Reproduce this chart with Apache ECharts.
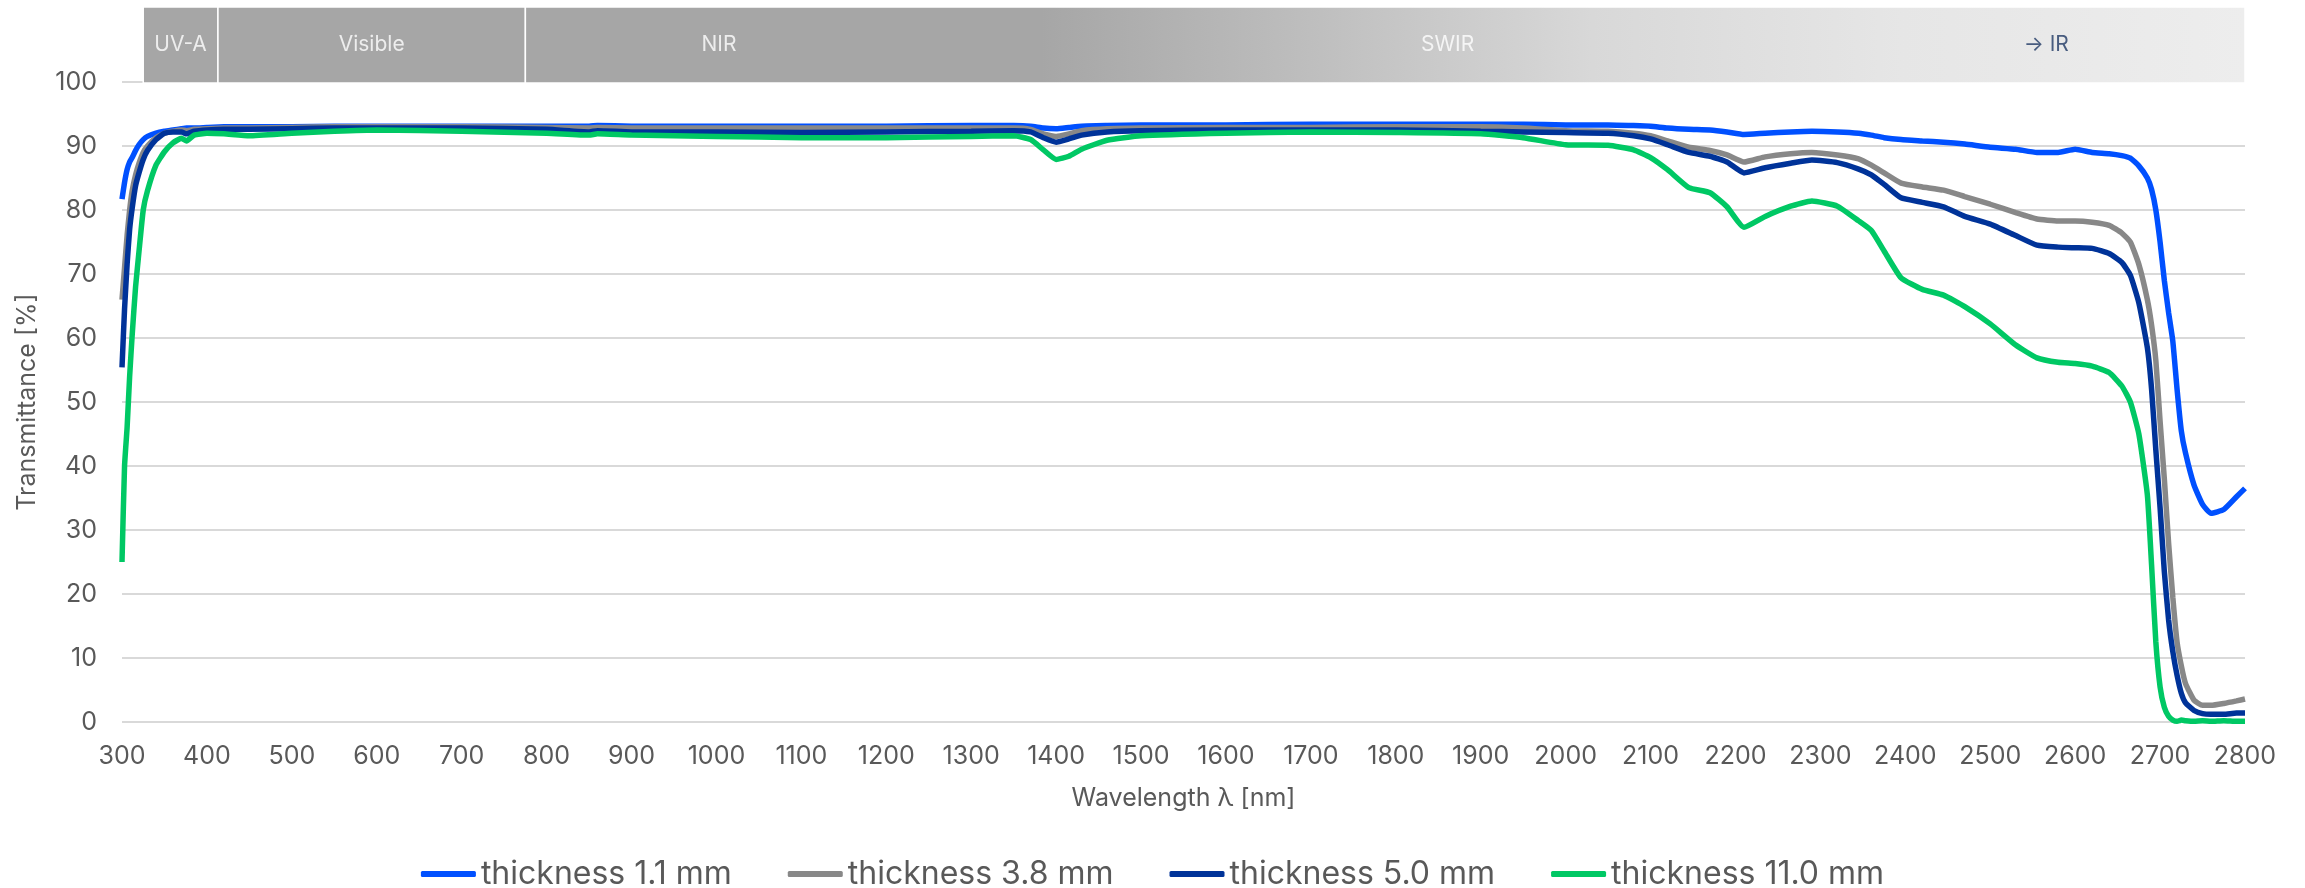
<!DOCTYPE html>
<html><head><meta charset="utf-8">
<script src="https://cdn.jsdelivr.net/npm/echarts@6/dist/echarts.min.js"></script>
<style>html,body{margin:0;padding:0;background:#fff}#chart{width:2305px;height:888px}</style>
</head><body><div id="chart"></div>
<script>
// Wavelength sample points [nm]
const wavelengths = [300,303,306,309,312,316,320,325,330,340,350,360,370,376,385,400,420,450,500,550,600,700,800,850,860,900,1000,1100,1200,1300,1350,1370,1385,1400,1415,1430,1460,1500,1600,1700,1800,1900,1950,2000,2050,2080,2100,2120,2145,2170,2190,2210,2235,2265,2290,2320,2345,2360,2375,2395,2420,2445,2470,2500,2530,2555,2580,2600,2620,2640,2655,2665,2675,2685,2690,2695,2700,2705,2710,2715,2720,2725,2730,2740,2750,2760,2775,2790,2800];

// Transmittance [%] per thickness
const t1_1 = [81.7,84.3,86.3,87.5,88.2,89.3,90.2,91.0,91.5,92.0,92.3,92.5,92.7,92.8,92.8,92.9,93.0,93.0,93.0,93.1,93.1,93.1,93.1,93.1,93.2,93.1,93.1,93.1,93.1,93.2,93.2,93.1,92.8,92.7,92.9,93.1,93.2,93.3,93.3,93.4,93.4,93.4,93.4,93.3,93.3,93.2,93.1,92.8,92.6,92.5,92.2,91.8,92.0,92.2,92.3,92.2,92.0,91.7,91.3,91.0,90.8,90.6,90.3,89.8,89.5,89.0,89.0,89.5,89.0,88.8,88.5,88.1,86.9,85.0,83.2,80.0,75.0,69.0,64.0,59.5,52.0,45.5,42.0,37.0,34.0,32.6,33.2,35.2,36.5];
const t3_8 = [66,71,76,80,83,85.5,87.3,89.0,90.0,91.3,92.0,92.3,92.5,92.4,92.6,92.7,92.8,92.8,92.9,93.0,93.0,93.0,92.9,92.8,92.9,92.8,92.8,92.8,92.8,92.8,92.8,92.6,91.9,91.5,91.9,92.4,92.7,92.8,92.9,92.9,93.0,93.0,92.8,92.4,92.3,92.0,91.6,90.8,89.8,89.3,88.6,87.5,88.3,88.8,89.0,88.6,88.0,87.0,85.8,84.2,83.6,83.1,82.1,80.9,79.6,78.6,78.3,78.3,78.1,77.6,76.4,75.0,71.5,66.0,62.0,56.5,47.0,38.0,28.0,19.5,12.5,8.8,6.0,3.4,2.6,2.6,2.9,3.3,3.6];
const t5_0 = [55.4,64.5,71.5,77.0,80.3,83.8,85.8,87.9,89.3,91.0,92.0,92.2,92.2,91.9,92.3,92.5,92.6,92.6,92.7,92.8,92.8,92.8,92.6,92.2,92.4,92.2,92.2,92.1,92.2,92.3,92.4,92.2,91.3,90.6,91.1,91.7,92.2,92.4,92.5,92.5,92.5,92.3,92.2,92.1,92.0,91.6,91.1,90.2,89.0,88.4,87.5,85.8,86.6,87.3,87.8,87.4,86.4,85.5,84.0,81.9,81.2,80.5,79.0,77.8,76.0,74.5,74.2,74.1,74.0,73.2,71.8,69.8,65.5,58.5,52.0,42.5,33.5,23.5,16.0,11.0,7.3,4.5,3.0,1.8,1.3,1.2,1.2,1.4,1.4];
const t11_0 = [25,40,46,54,60.5,68,73.5,80,83,87,89.1,90.5,91.2,90.8,91.7,92.0,91.9,91.6,92.0,92.3,92.5,92.3,92.0,91.7,91.9,91.7,91.5,91.3,91.3,91.5,91.6,91.0,89.4,87.9,88.4,89.5,90.9,91.6,92.0,92.2,92.1,91.9,91.3,90.2,90.1,89.4,88.2,86.3,83.5,82.7,80.5,77.3,79.0,80.6,81.4,80.6,78.3,76.8,73.6,69.4,67.6,66.7,64.9,62.2,58.9,56.9,56.2,56.0,55.6,54.6,52.5,50.0,45.0,35.5,24.5,12.5,5.5,2.3,0.9,0.3,0.1,0.3,0.2,0.1,0.2,0.1,0.2,0.1,0.1];

const seriesNames = ['thickness 1.1 mm','thickness 3.8 mm','thickness 5.0 mm','thickness 11.0 mm'];
const seriesValues = [t1_1, t3_8, t5_0, t11_0];

// Spectral band header
const bandEdges = [325, 413, 775, 2800];
const bandLabels = ['UV-A','Visible','NIR','SWIR','→ IR'];
const bandLabelAt = [369, 594, 1003, 1861, 2566];

const colors = ['#0050FF','#888888','#003399','#00C864'];
const fontFamily = 'Inter, "Noto Sans", sans-serif';
const textColor = '#595959';

const chart = echarts.init(document.getElementById('chart'), null, {renderer:'canvas'});

const lineSeries = seriesNames.map((name, k) => ({
  name, type:'line', xAxisIndex:0, yAxisIndex:0,
  data: wavelengths.map((w,i)=>[w, seriesValues[k][i]]),
  showSymbol:false, smooth:0.15,
  lineStyle:{width:5.5, color:colors[k]}, itemStyle:{color:colors[k]},
  z:2
}));

const bandGradient = new echarts.graphic.LinearGradient(0,0,1,0,[
  {offset:0, color:'#a6a6a6'},
  {offset:0.30, color:'#a6a6a6'},
  {offset:0.45, color:'#bdbdbd'},
  {offset:0.62, color:'#d8d8d8'},
  {offset:0.80, color:'#e6e6e6'},
  {offset:1, color:'#ededed'}
]);

const bandAreas = [];
for (let i=0;i<bandEdges.length-1;i++){
  bandAreas.push([
    {xAxis:bandEdges[i], yAxis:0, itemStyle:{color: i===bandEdges.length-2 ? bandGradient : '#a6a6a6', borderColor:'#ffffff', borderWidth:1.5}},
    {xAxis:bandEdges[i+1], yAxis:1}
  ]);
}

const bandSeries = {
  type:'scatter', xAxisIndex:1, yAxisIndex:1, z:5,
  symbolSize:1, itemStyle:{color:'rgba(0,0,0,0)'},
  data: bandLabelAt.map((x,i)=>({name:bandLabels[i], value:[x,0.5],
    label:{color: i===bandLabels.length-1 ? '#1f3864' : '#ffffff'}})),
  label:{show:true, position:'inside', formatter:'{b}', fontSize:21, fontFamily},
  markArea:{silent:true, data:bandAreas},
  silent:true
};

chart.setOption({
  animation:false,
  backgroundColor:'#ffffff',
  color:colors,
  grid:[
    {left:122, right:60, top:82, bottom:166, containLabel:false},
    {left:122, right:60, top:7, height:76, containLabel:false}
  ],
  xAxis:[
    {type:'value', gridIndex:0, min:300, max:2800, interval:100,
     name:'Wavelength λ [nm]', nameLocation:'middle', nameGap:64,
     nameTextStyle:{color:textColor, fontSize:25, fontFamily},
     axisLine:{show:false}, axisTick:{show:false}, splitLine:{show:false},
     axisLabel:{color:textColor, fontSize:25, fontFamily, margin:22, formatter:(v)=>String(v)}},
    {type:'value', gridIndex:1, min:300, max:2800, show:false}
  ],
  yAxis:[
    {type:'value', gridIndex:0, min:0, max:100, interval:10,
     name:'Transmittance [%]', nameLocation:'middle', nameGap:82, nameRotate:90,
     nameTextStyle:{color:textColor, fontSize:25, fontFamily},
     axisLine:{show:false}, axisTick:{show:false},
     splitLine:{lineStyle:{color:'#d9d9d9', width:2}},
     axisLabel:{color:textColor, fontSize:25, fontFamily, margin:25}},
    {type:'value', gridIndex:1, min:0, max:1, show:false}
  ],
  legend:{
    data:seriesNames, top:853, left:'center',
    icon:'roundRect', itemWidth:55, itemHeight:6, itemGap:56,
    textStyle:{color:textColor, fontSize:32, fontFamily}
  },
  series:[...lineSeries, bandSeries]
});
</script></body></html>
